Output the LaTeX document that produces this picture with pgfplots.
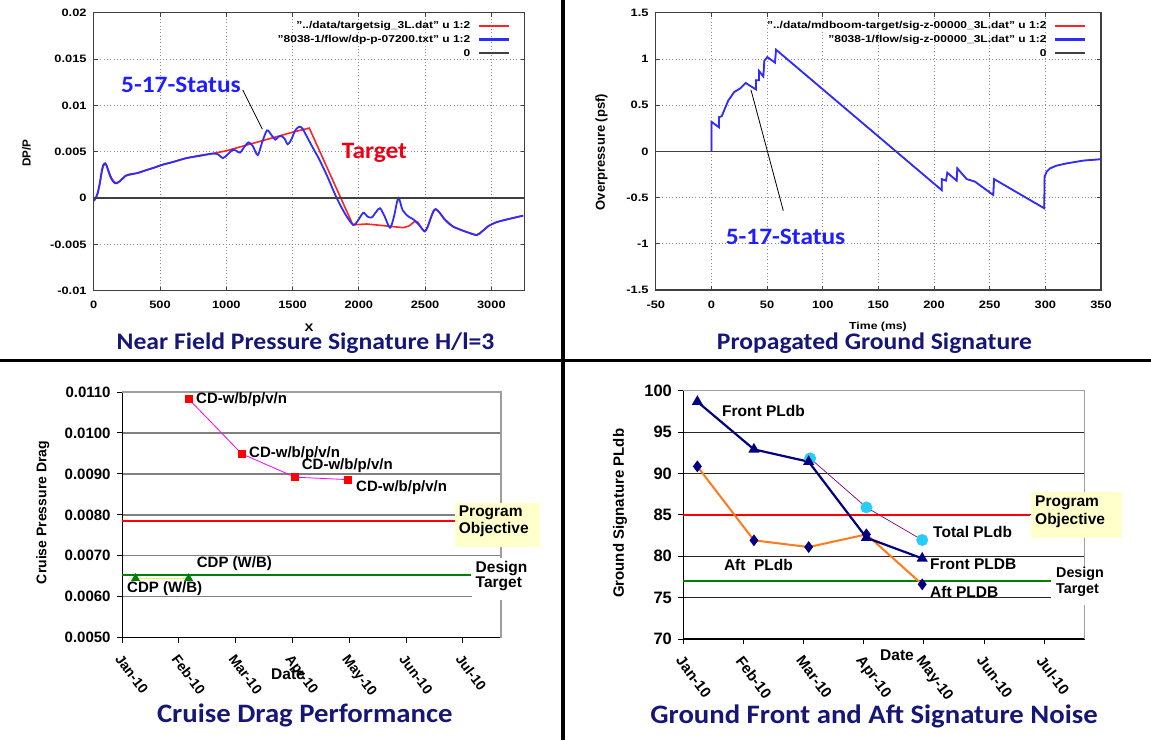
\documentclass[border=0pt]{standalone}
\usepackage{fontspec}
\setmainfont{Liberation Sans}
\newfontfamily\calibri{Carlito}[FakeStretch=1.08]
\usepackage{graphicx}
\usepackage{pgfplots}
\pgfplotsset{compat=1.18}

\definecolor{titlenavy}{RGB}{22,22,118}
\definecolor{gpred}{RGB}{255,35,35}
\definecolor{gpblue}{RGB}{45,45,255}
\definecolor{annoblue}{RGB}{30,30,255}
\definecolor{annored}{RGB}{235,0,20}
\definecolor{xlorange}{RGB}{255,122,24}
\definecolor{xlnavy}{RGB}{0,0,128}
\definecolor{xlcyan}{RGB}{40,205,245}
\definecolor{xlpurple}{RGB}{128,0,128}
\definecolor{xlgreen}{RGB}{0,128,0}
\definecolor{xlyellow}{RGB}{240,240,90}
\definecolor{noteyellow}{RGB}{255,255,204}
\definecolor{xlmagenta}{RGB}{255,0,255}

\newcommand{\fs}[1]{\fontsize{#1}{#1}\selectfont}
% gnuplot text is set a little wider than the font's natural width
\newcommand{\gp}[1]{\scalebox{1.2}[1]{#1}}

\pgfplotsset{
  gnuplotpanel/.style={
    scale only axis, anchor=south west, clip=true,
    scaled x ticks=false, scaled y ticks=false,
    axis line style={black!75, line width=1.1pt},
    tick align=inside, xtick pos=both, ytick pos=both,
    major tick length=4pt, tick style={black!75, line width=0.8pt},
    grid=major, major grid style={black!45, line width=0.8pt, dash pattern=on 0.9pt off 2.4pt},
    tick label style={font=\bfseries\fs{10.7}, xscale=1.2},
    xticklabel style={yshift=-7pt}, yticklabel style={xshift=-2.5pt},
    legend cell align=right, legend plot pos=right,
    legend style={draw=none, fill=none, anchor=north east, font=\bfseries\fs{10}},
    legend style={inner sep=0pt, row sep=3.2pt, column sep=7pt,
      nodes={inner sep=0.5pt, text height=7.5pt, text depth=2pt}},
    legend image code/.code={\draw[##1] (0pt,0pt) -- (30pt,0pt);},
  },
  excelpanel/.style={
    scale only axis, anchor=south west, clip=false,
    scaled x ticks=false, scaled y ticks=false,
    axis x line*=bottom, axis y line*=left,
    axis line style={black, line width=1.2pt},
    tick align=outside, major tick length=5pt, tick style={black, line width=1pt},
    xmin=0, xmax=6.67, xtick={0,1,2,3,4,5,6},
    xticklabels={Jan-10,Feb-10,Mar-10,Apr-10,May-10,Jun-10,Jul-10},
    xticklabel style={rotate=-53, anchor=north west, inner sep=0pt, xshift=8.5pt, yshift=-6pt},
    yticklabel style={xshift=-3pt},
    ymajorgrids,
  },
  zeroline/.style={black!75, line width=1.3pt},
}
\tikzset{
  lbl/.style={anchor=west, inner sep=0pt},
  frame/.style={black!38, line width=1.4pt},
}

\begin{document}
\begin{tikzpicture}[x=1pt,y=1pt]
\path[use as bounding box] (0,0) rectangle (1151,740);

% ---------------- Near field pressure signature ----------------
\begin{axis}[gnuplotpanel, at={(93.8pt,449.3pt)}, width=430.7pt, height=278pt,
  xmin=0, xmax=3250, ymin=-0.01, ymax=0.02,
  xtick={0,500,1000,1500,2000,2500,3000},
  xticklabels={0,500,1000,1500,2000,2500,3000},
  ytick={-0.01,-0.005,0,0.005,0.01,0.015,0.02},
  yticklabels={-0.01,-0.005,0,0.005,0.01,0.015,0.02},
  legend style={at={(0.968,0.972)}}]
\addplot[gpred, line width=1.6pt, legend image post style={line width=2pt}] coordinates {
 (0,-0.0003) (15,0.0) (30,0.0005) (45,0.0015) (60,0.0028) (72,0.0035) (85,0.0037)
 (97,0.0035) (110,0.003) (125,0.0024) (140,0.002) (158,0.0017) (175,0.00165)
 (195,0.0018) (215,0.0021) (240,0.0024) (270,0.0025) (330,0.0027) (394,0.0030)
 (460,0.0033) (520,0.0036) (600,0.0039) (696,0.0043) (800,0.0046) (897,0.0048)
 (1000,0.0051) (1100,0.0055) (1200,0.0059) (1300,0.0063) (1400,0.0067) (1500,0.0071)
 (1626,0.00755) (1955,-0.0029) (2059,-0.0028) (2200,-0.0030) (2335,-0.0032)
 (2380,-0.0030) (2424,-0.0025) (2445,-0.0026) (2475,-0.0033) (2499,-0.0036)
 (2520,-0.0031) (2545,-0.0020) (2565,-0.0014) (2580,-0.0012) (2600,-0.0014)
 (2640,-0.0022) (2713,-0.0031) (2800,-0.0036) (2889,-0.0040) (2930,-0.0036)
 (2980,-0.0030) (3040,-0.0026) (3120,-0.0023) (3240,-0.0019)};
\addlegendentry{\gp{"../data/targetsig\_3L.dat" u 1:2}}
\addplot[gpblue, line width=1.8pt, smooth, legend image post style={line width=2.6pt}] coordinates {
 (0,-0.0003) (15,0.0) (30,0.0006) (45,0.0016) (60,0.0029) (72,0.0036) (85,0.00375)
 (97,0.0035) (110,0.0029) (125,0.0023) (140,0.0019) (158,0.0016) (175,0.0016)
 (195,0.0018) (218,0.0021) (240,0.0024) (268,0.00255) (330,0.0027) (394,0.0030)
 (460,0.0033) (520,0.0036) (600,0.0039) (696,0.0043) (800,0.00455) (897,0.0048)
 (940,0.0047) (973,0.0043) (1010,0.0047) (1048,0.0052) (1075,0.0051) (1103,0.0049)
 (1135,0.0055) (1169,0.0060) (1200,0.0056) (1237,0.00464) (1270,0.0060) (1307,0.0073)
 (1340,0.0068) (1370,0.0063) (1392,0.0066) (1412,0.0067) (1440,0.0064) (1463,0.0058)
 (1490,0.0063) (1520,0.0073) (1551,0.0077) (1575,0.0075) (1594,0.0070) (1650,0.0055)
 (1700,0.0042) (1760,0.0024) (1833,0.0) (1900,-0.0018) (1958,-0.0029) (1990,-0.0025)
 (2033,-0.0016) (2065,-0.0020) (2097,-0.0021) (2130,-0.0015) (2160,-0.0011)
 (2195,-0.0020) (2235,-0.0032) (2265,-0.0020) (2298,0.0) (2330,-0.0013) (2374,-0.0020)
 (2400,-0.0022) (2420,-0.0024) (2460,-0.0030) (2499,-0.0036) (2530,-0.0027)
 (2560,-0.0015) (2580,-0.0012) (2610,-0.0016) (2660,-0.0025) (2713,-0.0031)
 (2800,-0.0036) (2889,-0.0040) (2930,-0.0036) (2980,-0.0030) (3040,-0.0026)
 (3120,-0.0023) (3240,-0.0019)};
\addlegendentry{\gp{"8038-1/flow/dp-p-07200.txt" u 1:2}}
\addplot[zeroline, legend image post style={line width=1.8pt}] coordinates {(0,0) (3250,0)};
\addlegendentry{\gp{0}}
\end{axis}
\node[rotate=90, font=\fs{11.7}\bfseries] at (26.4,587) {DP/P};
\node[font=\fs{11}\bfseries] at (309,412.5) {\gp{X}};
\node[anchor=base west, inner sep=0pt, font=\calibri\bfseries\fs{23.5}, text=annoblue] at (121,647.3) {5-17-Status};
\node[anchor=base west, inner sep=0pt, font=\calibri\bfseries\fs{23.5}, text=annored] at (341.7,581.5) {Target};
\draw[black, line width=0.8pt] (242.8,650) -- (262.4,610.7);
\node[anchor=base, inner sep=0pt, font=\calibri\bfseries\fs{23.75}, text=titlenavy] at (305.5,390) {Near Field Pressure Signature H/l=3};

% ---------------- Propagated ground signature ----------------
\begin{axis}[gnuplotpanel, at={(655.8pt,450pt)}, width=445.2pt, height=277.3pt,
  xmin=-50, xmax=350, ymin=-1.5, ymax=1.5,
  xtick={-50,0,50,100,150,200,250,300,350},
  xticklabels={-50,0,50,100,150,200,250,300,350},
  ytick={-1.5,-1,-0.5,0,0.5,1,1.5},
  yticklabels={-1.5,-1,-0.5,0,0.5,1,1.5},
  legend style={at={(0.968,0.972)}}]
\addplot[gpred, line width=1.1pt, legend image post style={line width=2pt}] coordinates {
 (0,0) (0,0.32) (6.8,0.26) (6.8,0.37) (9.2,0.38) (12,0.46) (15.1,0.55) (17.5,0.59)
 (20.3,0.64) (25.7,0.68) (30.8,0.74) (34.6,0.71) (40,0.67) (40,0.77) (42.7,0.77)
 (42.7,0.87) (46.6,0.81) (47.5,0.98) (50.2,1.02) (57.1,0.96) (58,1.1) (206.9,-0.42)
 (206.9,-0.30) (210.7,-0.317) (211.9,-0.231) (220.3,-0.317) (220.9,-0.184)
 (229.3,-0.30) (236.8,-0.328) (253.2,-0.472) (253.9,-0.30) (299,-0.616)
 (299.3,-0.274) (301.2,-0.22) (304.2,-0.184) (310,-0.155) (319.2,-0.13)
 (334.1,-0.10) (350,-0.085)};
\addlegendentry{\gp{"../data/mdboom-target/sig-z-00000\_3L.dat" u 1:2}}
\addplot[gpblue, line width=1.8pt, legend image post style={line width=2.6pt}] coordinates {
 (0,0) (0,0.32) (6.8,0.26) (6.8,0.37) (9.2,0.38) (12,0.46) (15.1,0.55) (17.5,0.59)
 (20.3,0.64) (25.7,0.68) (30.8,0.74) (34.6,0.71) (40,0.67) (40,0.77) (42.7,0.77)
 (42.7,0.87) (46.6,0.81) (47.5,0.98) (50.2,1.02) (57.1,0.96) (58,1.1) (206.9,-0.42)
 (206.9,-0.30) (210.7,-0.317) (211.9,-0.231) (220.3,-0.317) (220.9,-0.184)
 (229.3,-0.30) (236.8,-0.328) (253.2,-0.472) (253.9,-0.30) (299,-0.616)
 (299.3,-0.274) (301.2,-0.22) (304.2,-0.184) (310,-0.155) (319.2,-0.13)
 (334.1,-0.10) (350,-0.085)};
\addlegendentry{\gp{"8038-1/flow/sig-z-00000\_3L.dat" u 1:2}}
\addplot[zeroline, legend image post style={line width=1.8pt}] coordinates {(-50,0) (350,0)};
\addlegendentry{\gp{0}}
\end{axis}
\node[rotate=90, font=\fs{13}\bfseries] at (601.6,588) {Overpressure (psf)};
\node[font=\fs{10.2}\bfseries] at (878,413) {\gp{Time (ms)}};
\node[anchor=base west, inner sep=0pt, font=\calibri\bfseries\fs{23.5}, text=annoblue] at (725.6,495) {5-17-Status};
\draw[black, line width=0.8pt] (751,650) -- (783.3,529.3);
\node[anchor=base, inner sep=0pt, font=\calibri\bfseries\fs{23.75}, text=titlenavy] at (874.4,390) {Propagated Ground Signature};

% ---------------- Cruise drag ----------------
\begin{axis}[excelpanel, at={(122.1pt,102.3pt)}, width=378.8pt, height=245.7pt,
  ymin=0.005, ymax=0.011,
  ytick={0.005,0.006,0.007,0.008,0.009,0.010,0.011},
  yticklabels={0.0050,0.0060,0.0070,0.0080,0.0090,0.0100,0.0110},
  yticklabel style={font=\fs{15}\bfseries},
  xticklabel style={font=\fs{14}\bfseries},
  major grid style={black!50, line width=1.3pt}]
\draw[frame] (rel axis cs:0,1) -- (rel axis cs:1,1) -- (rel axis cs:1,0);
\addplot[red, line width=2pt] coordinates {(0,0.00786) (5.87,0.00786)};
\addplot[xlgreen, line width=2pt] coordinates {(0,0.00654) (6.15,0.00654)};
\addplot[xlyellow, line width=1.2pt, mark=triangle*, mark size=4pt,
  mark options={fill=xlgreen, draw=xlgreen}] coordinates {(0.237,0.00645) (1.172,0.00645)};
\addplot[xlmagenta, line width=0.8pt, mark=square*, mark size=3.6pt,
  mark options={fill=red, draw=red}] coordinates {
  (1.172,0.01083) (2.107,0.00949) (3.048,0.00892) (3.976,0.00886)};
\end{axis}
\node[rotate=90, font=\fs{14}\bfseries] at (42.7,227.5) {Cruise Pressure Drag};
\begin{scope}[every node/.style={lbl, font=\fs{15}\bfseries}]
\node at (196,340.7) {CD-w/b/p/v/n};
\node at (249,286) {CD-w/b/p/v/n};
\node at (301.7,274.3) {CD-w/b/p/v/n};
\node at (356,252.7) {CD-w/b/p/v/n};
\node at (196.7,176.7) {CDP (W/B)};
\node at (127,151) {CDP (W/B)};
\end{scope}
\fill[noteyellow] (455,192.7) rectangle (540,236.7);
\fill[white] (471.5,140) rectangle (531,182);
\begin{scope}[every node/.style={lbl, font=\fs{15.5}\bfseries}]
\node at (458.7,226.7) {Program};
\node at (458.7,211) {Objective};
\node at (475.5,171.3) {Design};
\node at (475.5,156) {Target};
\node at (271,66) {Date};
\end{scope}
\node[anchor=base, inner sep=0pt, font=\calibri\bfseries\fs{26.6}, text=titlenavy] at (304.8,17.3) {Cruise Drag Performance};

% ---------------- Ground signature noise ----------------
\begin{axis}[excelpanel, at={(683.4pt,101pt)}, width=401.1pt, height=248.3pt,
  ymin=70, ymax=100,
  ytick={70,75,80,85,90,95,100},
  yticklabels={70,75,80,85,90,95,100},
  yticklabel style={font=\fs{16.5}\bfseries},
  xticklabel style={font=\fs{15}\bfseries},
  major grid style={black!85, line width=1pt}]
\draw[frame] (rel axis cs:0,1) -- (rel axis cs:1,1) -- (rel axis cs:1,0);
\addplot[red, line width=2pt] coordinates {(0,85) (5.77,85)};
\addplot[xlgreen, line width=2pt] coordinates {(0,77.04) (6.12,77.04)};
\addplot[xlpurple, line width=0.7pt, mark=*, mark size=5.6pt,
  mark options={fill=xlcyan, draw=xlcyan}] coordinates {
  (2.108,91.82) (3.043,85.9) (3.971,81.96)};
\addplot[xlorange, line width=2pt, mark=diamond*, mark size=4.3pt,
  mark options={fill=xlnavy, draw=xlnavy}] coordinates {
  (0.232,90.86) (1.173,81.92) (2.083,81.11) (3.043,82.64) (3.971,76.6)};
\addplot[xlnavy, line width=2.2pt, mark=triangle*, mark size=4.3pt,
  mark options={fill=xlnavy, draw=xlnavy}] coordinates {
  (0.232,98.67) (1.173,92.91) (2.083,91.42) (3.043,82.24) (3.971,79.74)};
\end{axis}
\node[rotate=90, font=\fs{15}\bfseries] at (620,226.7) {Ground Signature PLdb};
\begin{scope}[every node/.style={lbl, font=\fs{15.5}\bfseries}]
\node at (722,329) {Front PLdb};
\node at (723.8,175) {Aft\ \ PLdb};
\node at (933,207.7) {Total PLdb};
\node at (930,176) {Front PLDB};
\node at (930,148.3) {Aft PLDB};
\node at (880,85) {Date};
\end{scope}
\fill[noteyellow] (1030.5,202.3) rectangle (1122.3,248.3);
\fill[white] (1051.4,135) rectangle (1100,173.3);
\begin{scope}[every node/.style={lbl, font=\fs{15.5}\bfseries}]
\node at (1035,236.7) {Program};
\node at (1035,220) {Objective};
\end{scope}
\begin{scope}[every node/.style={lbl, font=\fs{14.3}\bfseries}]
\node at (1056,166.3) {Design};
\node at (1056,150.3) {Target};
\end{scope}
\node[anchor=base, inner sep=0pt, font=\calibri\bfseries\fs{26.6}, text=titlenavy] at (874,16.7) {Ground Front and Aft Signature Noise};

% ---------------- dividers ----------------
\draw[black, line width=3.8pt] (563.3,0) -- (563.3,740);
\draw[black, line width=3.7pt] (0,379.5) -- (1151,379.5);
\end{tikzpicture}
\end{document}
